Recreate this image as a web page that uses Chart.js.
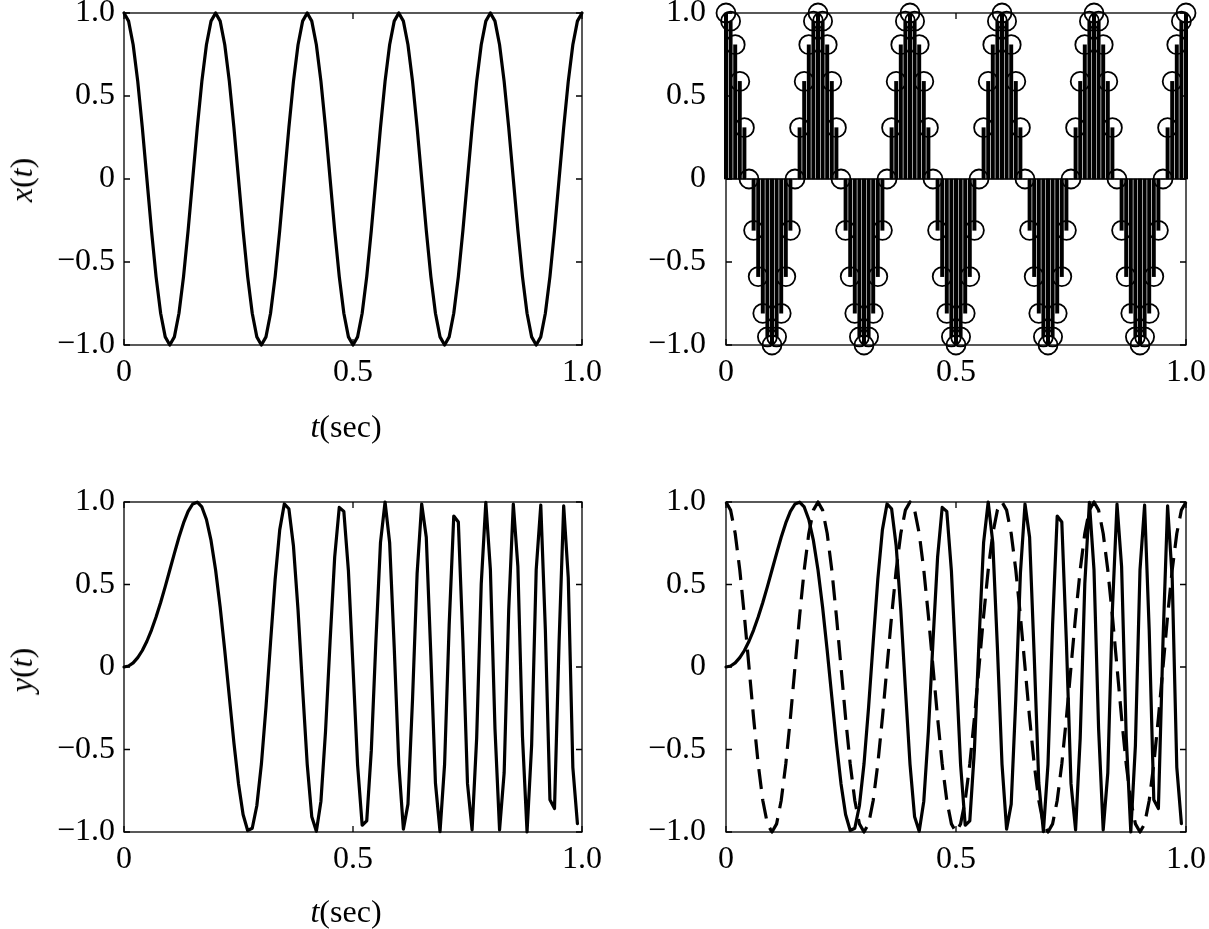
<!DOCTYPE html>
<html>
<head>
<meta charset="utf-8">
<script src="https://cdn.jsdelivr.net/npm/chart.js@4.4.1/dist/chart.umd.min.js"></script>
<style>
  html, body { margin: 0; padding: 0; background: #fff; }
  body { position: relative; width: 1209px; height: 929px; overflow: hidden; }
  canvas { position: absolute; }
  .ttl { position: absolute; font-family: "Liberation Serif", "Times New Roman", serif; font-size: 32px; color: #000; line-height: 1; white-space: nowrap; }
</style>
</head>
<body>
<canvas id="c1"></canvas>
<canvas id="c2"></canvas>
<canvas id="c3"></canvas>
<canvas id="c4"></canvas>
<div class="ttl" style="left:346px;top:426px;transform:translate(-50%,-50%)"><i>t</i>(sec)</div>
<div class="ttl" style="left:346px;top:911px;transform:translate(-50%,-50%)"><i>t</i>(sec)</div>
<div class="ttl" style="left:21px;top:180px;transform:translate(-50%,-50%) rotate(-90deg)"><i>x</i>(<i>t</i>)</div>
<div class="ttl" style="left:21px;top:670px;transform:translate(-50%,-50%) rotate(-90deg)"><i>y</i>(<i>t</i>)</div>
<script>
// sample times (sec)
const tSec = [
  0.00, 0.01, 0.02, 0.03, 0.04, 0.05, 0.06, 0.07, 0.08, 0.09,
  0.10, 0.11, 0.12, 0.13, 0.14, 0.15, 0.16, 0.17, 0.18, 0.19,
  0.20, 0.21, 0.22, 0.23, 0.24, 0.25, 0.26, 0.27, 0.28, 0.29,
  0.30, 0.31, 0.32, 0.33, 0.34, 0.35, 0.36, 0.37, 0.38, 0.39,
  0.40, 0.41, 0.42, 0.43, 0.44, 0.45, 0.46, 0.47, 0.48, 0.49,
  0.50, 0.51, 0.52, 0.53, 0.54, 0.55, 0.56, 0.57, 0.58, 0.59,
  0.60, 0.61, 0.62, 0.63, 0.64, 0.65, 0.66, 0.67, 0.68, 0.69,
  0.70, 0.71, 0.72, 0.73, 0.74, 0.75, 0.76, 0.77, 0.78, 0.79,
  0.80, 0.81, 0.82, 0.83, 0.84, 0.85, 0.86, 0.87, 0.88, 0.89,
  0.90, 0.91, 0.92, 0.93, 0.94, 0.95, 0.96, 0.97, 0.98, 0.99,
  1.00
];

// x(t) samples
const xVals = [
  1, 0.951, 0.809, 0.588, 0.309, 0, -0.309, -0.588, -0.809, -0.951,
  -1, -0.951, -0.809, -0.588, -0.309, 0, 0.309, 0.588, 0.809, 0.951,
  1, 0.951, 0.809, 0.588, 0.309, 0, -0.309, -0.588, -0.809, -0.951,
  -1, -0.951, -0.809, -0.588, -0.309, 0, 0.309, 0.588, 0.809, 0.951,
  1, 0.951, 0.809, 0.588, 0.309, 0, -0.309, -0.588, -0.809, -0.951,
  -1, -0.951, -0.809, -0.588, -0.309, 0, 0.309, 0.588, 0.809, 0.951,
  1, 0.951, 0.809, 0.588, 0.309, 0, -0.309, -0.588, -0.809, -0.951,
  -1, -0.951, -0.809, -0.588, -0.309, 0, 0.309, 0.588, 0.809, 0.951,
  1, 0.951, 0.809, 0.588, 0.309, 0, -0.309, -0.588, -0.809, -0.951,
  -1, -0.951, -0.809, -0.588, -0.309, 0, 0.309, 0.588, 0.809, 0.951,
  1
];

// y(t) samples (t = 0 .. 0.99)
const yVals = [
  0, 0.006, 0.025, 0.057, 0.100, 0.156, 0.224, 0.303, 0.391, 0.487,
  0.588, 0.689, 0.786, 0.873, 0.943, 0.988, 0.999, 0.970, 0.894, 0.767,
  0.588, 0.362, 0.100, -0.181, -0.460, -0.707, -0.894, -0.991, -0.977, -0.841,
  -0.588, -0.243, 0.150, 0.531, 0.831, 0.988, 0.959, 0.733, 0.345, -0.132,
  -0.588, -0.908, -0.996, -0.813, -0.391, 0.156, 0.666, 0.967, 0.943, 0.583,
  0, -0.593, -0.959, -0.932, -0.504, 0.156, 0.754, 1.000, 0.754, 0.119,
  -0.588, -0.983, -0.831, -0.194, 0.567, 0.988, 0.786, 0.069, -0.703, -0.998,
  -0.588, 0.255, 0.915, 0.879, 0.150, -0.707, -0.987, -0.431, 0.504, 0.998,
  0.588, -0.374, -0.987, -0.642, 0.345, 0.988, 0.608, -0.420, -0.999, -0.476,
  0.588, 0.981, 0.224, -0.805, -0.858, 0.156, 0.977, 0.541, -0.608, -0.949
];

const xTickVals = [0, 0.5, 1];
const xTickLabels = ['0', '0.5', '1.0'];
const yTickVals = [-1, -0.5, 0, 0.5, 1];
const yTickLabels = ['\u22121.0', '\u22120.5', '0', '0.5', '1.0'];

const FONT = { family: '"Liberation Serif", "Times New Roman", serif', size: 32 };
const Y_W = 124, TOP_PAD = 40, RIGHT_PAD = 40, X_H = 100;

function pts(vals) {
  return vals.map((v, i) => ({ x: tSec[i], y: v }));
}

// box + inward ticks on all four sides
const framePlugin = {
  id: 'frame',
  afterDatasetsDraw(chart) {
    const { ctx, chartArea: a, scales } = chart;
    const tl = 6;
    ctx.save();
    ctx.strokeStyle = '#000';
    ctx.lineWidth = 1.3;
    ctx.strokeRect(a.left, a.top, a.right - a.left, a.bottom - a.top);
    ctx.beginPath();
    scales.y.ticks.forEach(t => {
      const p = scales.y.getPixelForValue(t.value);
      ctx.moveTo(a.left, p); ctx.lineTo(a.left + tl, p);
      ctx.moveTo(a.right, p); ctx.lineTo(a.right - tl, p);
    });
    scales.x.ticks.forEach(t => {
      const p = scales.x.getPixelForValue(t.value);
      ctx.moveTo(p, a.bottom); ctx.lineTo(p, a.bottom - tl);
      ctx.moveTo(p, a.top); ctx.lineTo(p, a.top + tl);
    });
    ctx.stroke();
    ctx.restore();
  }
};

function makePanel(id, box, datasets, yPad) {
  const cv = document.getElementById(id);
  const w = Y_W + (box.right - box.left) + RIGHT_PAD;
  const h = TOP_PAD + (box.bottom - box.top) + X_H;
  cv.width = w; cv.height = h;
  cv.style.left = (box.left - Y_W) + 'px';
  cv.style.top = (box.top - TOP_PAD) + 'px';
  cv.style.width = w + 'px'; cv.style.height = h + 'px';
  return new Chart(cv, {
    type: 'line',
    data: { datasets },
    options: {
      responsive: false,
      animation: false,
      events: [],
      layout: { padding: { top: TOP_PAD, right: RIGHT_PAD, left: 0, bottom: 0 } },
      plugins: { legend: { display: false }, tooltip: { enabled: false } },
      scales: {
        x: {
          type: 'linear', min: 0, max: 1, offset: false,
          grid: { display: false, offset: false }, border: { display: false },
          afterBuildTicks: s => { s.ticks = xTickVals.map(v => ({ value: v })); },
          afterFit: s => { s.height = X_H; },
          ticks: { font: FONT, color: '#000', padding: 0, maxRotation: 0, autoSkip: false,
                   callback: (v, i) => xTickLabels[i] }
        },
        y: {
          type: 'linear', min: -1, max: 1,
          grid: { display: false }, border: { display: false },
          afterBuildTicks: s => { s.ticks = yTickVals.map(v => ({ value: v })); },
          afterFit: s => { s.width = Y_W; },
          ticks: { font: FONT, color: '#000', padding: yPad, autoSkip: false,
                   callback: (v, i) => yTickLabels[i] }
        }
      }
    },
    plugins: [framePlugin]
  });
}

function solid(vals) {
  return { type: 'line', data: pts(vals), borderColor: '#000', borderWidth: 3.2,
           borderJoinStyle: 'round', borderCapStyle: 'round',
           pointRadius: 0, tension: 0, fill: false, clip: false };
}

// top left: continuous x(t)
makePanel('c1', { left: 124, top: 13, right: 582, bottom: 345 }, [solid(xVals)], 1);

// top right: sampled x(t) as stems
makePanel('c2', { left: 726, top: 13, right: 1186, bottom: 345 }, [
  { type: 'line', data: pts(xVals), showLine: false, pointStyle: 'circle', pointRadius: 9.5,
    pointBorderWidth: 1.8, pointBorderColor: '#000', pointBackgroundColor: 'rgba(0,0,0,0)',
    clip: false, order: 0 },
  { type: 'bar', data: pts(xVals), backgroundColor: '#000', borderWidth: 0,
    barThickness: 3.3, clip: false, order: 1 },
  { type: 'line', data: [{ x: 0, y: 0 }, { x: 1, y: 0 }], borderColor: '#000', borderWidth: 1.3,
    pointRadius: 0, order: 2 }
], 12);

// bottom left: y(t)
makePanel('c3', { left: 124, top: 502, right: 582, bottom: 832 }, [solid(yVals)], 1);

// bottom right: y(t) solid with x(t) dashed
makePanel('c4', { left: 726, top: 502, right: 1186, bottom: 832 }, [
  solid(yVals),
  Object.assign(solid(xVals), { borderDash: [20, 10], borderCapStyle: 'butt' })
], 12);
</script>
</body>
</html>
